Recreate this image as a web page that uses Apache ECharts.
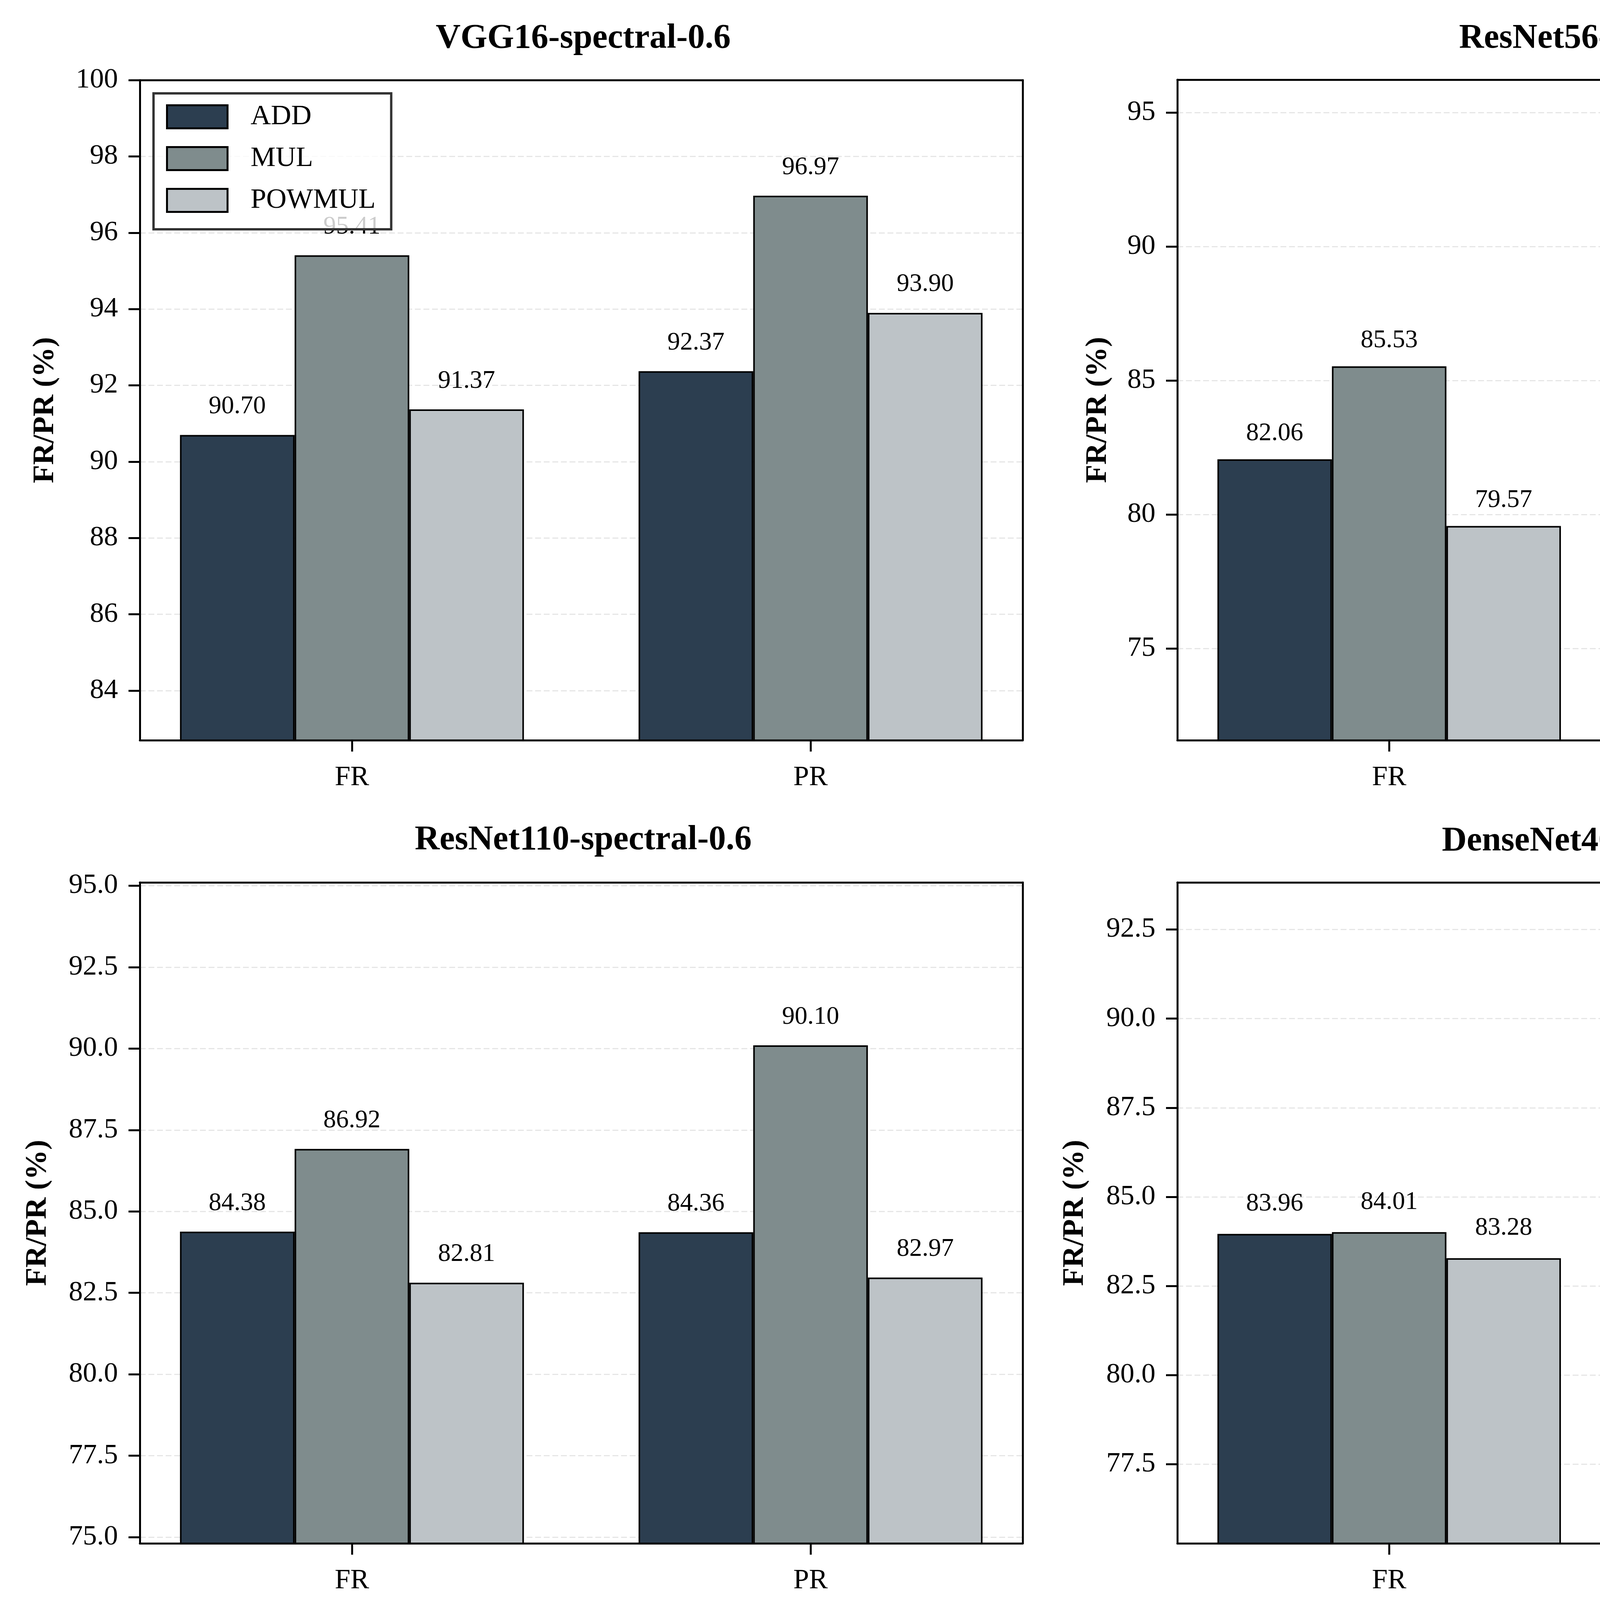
<!DOCTYPE html>
<html>
<head>
<meta charset="utf-8">
<script src="https://cdn.jsdelivr.net/npm/echarts@6/dist/echarts.min.js"></script>
<style>
html,body{margin:0;padding:0;background:#fff}
#c{width:5331px;height:4138px}
</style>
</head>
<body>
<div id="c"></div>
<script>
// ---------------- data ----------------
const categories = ['FR', 'PR'];
const seriesNames = ['ADD', 'MUL', 'POWMUL'];
const panelTitles = ['VGG16-spectral-0.6', 'ResNet56-spectral-0.6', 'ResNet110-spectral-0.6', 'DenseNet40-spectral-0.6'];
const yAxisTitle = 'FR/PR (%)';

const vgg16ADD = [90.70, 92.37];
const vgg16MUL = [95.41, 96.97];
const vgg16POWMUL = [91.37, 93.90];

const resnet56ADD = [82.06, 87.12];
const resnet56MUL = [85.53, 91.23];
const resnet56POWMUL = [79.57, 86.96];

const resnet110ADD = [84.38, 84.36];
const resnet110MUL = [86.92, 90.10];
const resnet110POWMUL = [82.81, 82.97];

const densenet40ADD = [83.96, 83.70];
const densenet40MUL = [84.01, 88.82];
const densenet40POWMUL = [83.28, 83.82];

const vgg16Ticks = ['84', '86', '88', '90', '92', '94', '96', '98', '100'];
const resnet56Ticks = ['75', '80', '85', '90', '95'];
const resnet110Ticks = ['75.0', '77.5', '80.0', '82.5', '85.0', '87.5', '90.0', '92.5', '95.0'];
const densenet40Ticks = ['77.5', '80.0', '82.5', '85.0', '87.5', '90.0', '92.5'];

// ---------------- styles / layout ----------------
const FONT = '"Liberation Serif", "Times New Roman", serif';
const barColors = ['#2c3e50', '#7f8c8d', '#bdc3c7'];
const layout = [
  {left: 358, top: 205, width: 2260, height: 1690, titleX: 1488, titleTop: 50, nameGap: 203, labelDist: 40},
  {left: 3014, top: 204, width: 2257, height: 1691, titleX: 4142, titleTop: 50, nameGap: 164, labelDist: 33},
  {left: 358, top: 2259, width: 2260, height: 1692, titleX: 1488, titleTop: 2102, nameGap: 222, labelDist: 40},
  {left: 3014, top: 2259, width: 2257, height: 1692, titleX: 4142, titleTop: 2105, nameGap: 223, labelDist: 44}
];

const panels = [
  {title: panelTitles[0], series: [vgg16ADD, vgg16MUL, vgg16POWMUL], ticks: vgg16Ticks},
  {title: panelTitles[1], series: [resnet56ADD, resnet56MUL, resnet56POWMUL], ticks: resnet56Ticks},
  {title: panelTitles[2], series: [resnet110ADD, resnet110MUL, resnet110POWMUL], ticks: resnet110Ticks},
  {title: panelTitles[3], series: [densenet40ADD, densenet40MUL, densenet40POWMUL], ticks: densenet40Ticks}
];

const option = {
  backgroundColor: '#ffffff',
  animation: false,
  title: [],
  grid: [],
  xAxis: [],
  yAxis: [],
  series: [],
  legend: {
    data: seriesNames,
    orient: 'vertical',
    left: 393,
    top: 239,
    padding: [24, 40, 38, 32],
    itemWidth: 155,
    itemHeight: 59,
    itemGap: 35,
    icon: 'rect',
    backgroundColor: 'rgba(255,255,255,0.8)',
    borderColor: '#333333',
    borderWidth: 6,
    borderRadius: 0,
    itemStyle: {borderColor: '#000', borderWidth: 5},
    textStyle: {fontFamily: FONT, fontSize: 72, lineHeight: 72, color: '#000', padding: [0, 0, 0, 54]}
  }
};

const frameLine = {show: true, onZero: false, lineStyle: {color: '#000', width: 5}};
const extraX = [], extraY = [];

panels.forEach((p, i) => {
  const L = layout[i];
  const all = p.series.flat();
  const yMin = Math.min(...all) - 8;
  const yMax = Math.min(100, Math.max(...all) + 5);
  const tickVals = p.ticks.map(Number);

  option.title.push({
    text: p.title, left: L.titleX, top: L.titleTop, textAlign: 'center',
    textStyle: {fontFamily: FONT, fontSize: 88, fontWeight: 'bold', color: '#000'}
  });
  option.grid.push({
    left: L.left, top: L.top, width: L.width, height: L.height,
    show: false, containLabel: false, outerBoundsMode: 'none'
  });
  option.xAxis.push({
    type: 'value', gridIndex: i, min: -0.4625, max: 1.4625, position: 'bottom',
    axisLine: frameLine,
    axisTick: {show: true, customValues: [0, 1], length: 29, lineStyle: {color: '#000', width: 5}},
    axisLabel: {
      customValues: [0, 1], formatter: v => categories[Math.round(v)],
      fontFamily: FONT, fontSize: 72, color: '#000', margin: 60
    },
    splitLine: {show: false}
  });
  option.yAxis.push({
    type: 'value', gridIndex: i, min: yMin, max: yMax, position: 'left',
    name: yAxisTitle, nameLocation: 'middle', nameGap: L.nameGap,
    nameTextStyle: {fontFamily: FONT, fontSize: 77, fontWeight: 'bold', color: '#000'},
    axisLine: frameLine,
    axisTick: {show: true, customValues: tickVals, length: 29, lineStyle: {color: '#000', width: 5}},
    axisLabel: {
      customValues: tickVals,
      formatter: v => {
        const k = tickVals.findIndex(t => Math.abs(t - v) < 1e-6);
        return k >= 0 ? p.ticks[k] : '';
      },
      fontFamily: FONT, fontSize: 72, color: '#000', margin: 56
    },
    splitLine: {show: true, lineStyle: {color: '#e6e6e6', width: 3, type: [15, 7]}}
  });
  // top / right frame lines
  extraX.push({
    type: 'value', gridIndex: i, min: -0.4625, max: 1.4625, position: 'top',
    axisLine: frameLine, axisTick: {show: false}, axisLabel: {show: false}, splitLine: {show: false}
  });
  extraY.push({
    type: 'value', gridIndex: i, min: yMin, max: yMax, position: 'right',
    axisLine: frameLine, axisTick: {show: false}, axisLabel: {show: false}, splitLine: {show: false}
  });
  p.series.forEach((vals, k) => {
    option.series.push({
      type: 'bar', name: seriesNames[k], xAxisIndex: i, yAxisIndex: i,
      data: vals.map((v, j) => [j, v]),
      barWidth: '25%', barGap: '0%',
      itemStyle: {color: barColors[k], borderColor: '#000', borderWidth: 4},
      label: {
        show: true, position: 'top', distance: L.labelDist,
        formatter: d => d.value[1].toFixed(2),
        fontFamily: FONT, fontSize: 65, color: '#000'
      },
      z: 2
    });
  });
});
option.xAxis.push(...extraX);
option.yAxis.push(...extraY);

const chart = echarts.init(document.getElementById('c'), null, {renderer: 'canvas'});
chart.setOption(option);
</script>
</body>
</html>
